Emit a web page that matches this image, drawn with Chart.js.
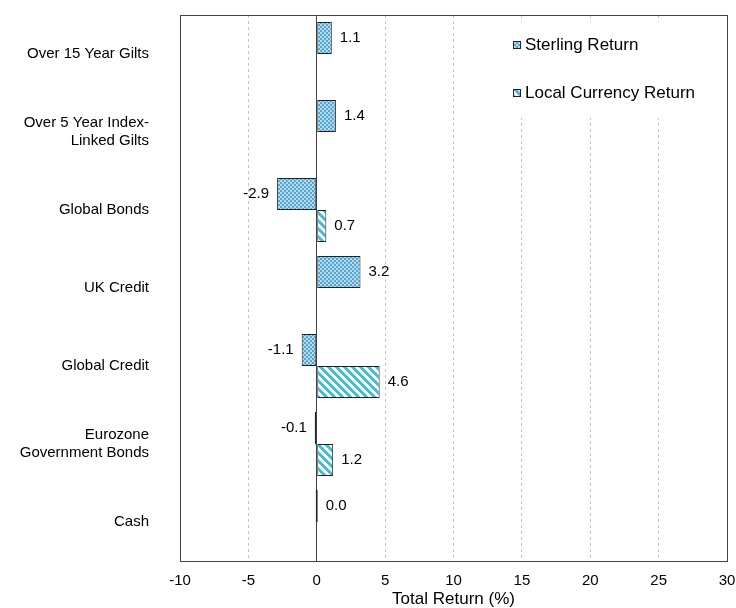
<!DOCTYPE html>
<html>
<head>
<meta charset="utf-8">
<script src="https://cdn.jsdelivr.net/npm/chart.js@4.4.1/dist/chart.umd.min.js"></script>
<style>
  html, body { margin: 0; padding: 0; background: #fff; }
  #wrap { width: 736px; height: 608px; }
</style>
</head>
<body>
<div id="wrap"><canvas id="myChart" width="736" height="608"></canvas></div>
<script>
// categories, top to bottom
var categories = [
  "Over 15 Year Gilts",
  ["Over 5 Year Index-", "Linked Gilts"],
  "Global Bonds",
  "UK Credit",
  "Global Credit",
  ["Eurozone", "Government Bonds"],
  "Cash",
];
var seriesNames = ["Sterling Return", "Local Currency Return"];
var sterlingReturn = [1.1, 1.4, -2.9, 3.2, -1.1, -0.1, 0.0];
var localReturn = [null, null, 0.7, null, 4.6, 1.2, null];
var xMin = -10;
var xMax = 30;
var xStep = 5;
var axisTitle = "Total Return (%)";

var FONT = "'Liberation Sans', Arial, sans-serif";

var canvas = document.getElementById("myChart");
var mainCtx = canvas.getContext("2d");

// small checker fill for sterling bars
function makeChecker() {
  var c = document.createElement("canvas");
  c.width = 4;
  c.height = 4;
  var g = c.getContext("2d");
  g.fillStyle = "#55a7d0";
  g.fillRect(0, 0, 4, 4);
  g.fillStyle = "#b3dbee";
  g.fillRect(0, 0, 2, 2);
  g.fillRect(2, 2, 2, 2);
  return mainCtx.createPattern(c, "repeat");
}

// diagonal stripes for local currency bars
function makeStripes() {
  var c = document.createElement("canvas");
  c.width = 8;
  c.height = 8;
  var g = c.getContext("2d");
  g.fillStyle = "#ffffff";
  g.fillRect(0, 0, 8, 8);
  g.fillStyle = "#3dbfe0";
  for (var y = 0; y < 8; y++) {
    for (var x = 0; x < 8; x++) {
      if ((((x - y) % 8) + 8) % 8 < 4) g.fillRect(x, y, 1, 1);
    }
  }
  return mainCtx.createPattern(c, "repeat");
}

var checker = makeChecker();
var stripes = makeStripes();

// frame round the plot area
var framePlugin = {
  id: "frame",
  afterDatasetsDraw: function (chart) {
    var a = chart.chartArea;
    var ctx = chart.ctx;
    var l = Math.round(a.left) + 0.5;
    var t = Math.round(a.top) + 0.5;
    var r = Math.round(a.right) + 0.5;
    var b = Math.round(a.bottom) + 0.5;
    ctx.save();
    ctx.strokeStyle = "#444";
    ctx.lineWidth = 1;
    ctx.strokeRect(l, t, r - l, b - t);
    ctx.restore();
  },
};

// value text next to each bar
var valueLabels = {
  id: "valueLabels",
  afterDatasetsDraw: function (chart) {
    var ctx = chart.ctx;
    ctx.save();
    ctx.font = "15px " + FONT;
    ctx.fillStyle = "#000";
    ctx.textBaseline = "middle";
    chart.data.datasets.forEach(function (ds, di) {
      var meta = chart.getDatasetMeta(di);
      meta.data.forEach(function (bar, i) {
        var v = ds.data[i];
        if (v === null || v === undefined) return;
        var txt = v.toFixed(1);
        if (v < 0) {
          ctx.textAlign = "right";
          ctx.fillText(txt, Math.min(bar.x, bar.base) - 8, bar.y);
        } else {
          ctx.textAlign = "left";
          ctx.fillText(txt, Math.max(bar.x, bar.base) + 8, bar.y);
        }
      });
    });
    ctx.restore();
  },
};

// legend inside the plot, top right, on a white box
var legendBox = {
  id: "legendBox",
  afterDraw: function (chart) {
    var ctx = chart.ctx;
    var a = chart.chartArea;
    var x0 = Math.round(a.right) - 222;
    var y0 = Math.round(a.top) + 7;
    ctx.save();
    ctx.fillStyle = "#fff";
    ctx.fillRect(x0, y0, 218, 96);
    ctx.font = "17px " + FONT;
    ctx.textBaseline = "middle";
    ctx.textAlign = "left";
    chart.data.datasets.forEach(function (ds, i) {
      var x = Math.round(a.right) - 214;
      var y = Math.round(a.top) + 30 + i * 48;
      ctx.fillStyle = ds.backgroundColor;
      ctx.fillRect(x, y - 4, 8, 8);
      ctx.strokeStyle = "#222";
      ctx.lineWidth = 1;
      ctx.strokeRect(x + 0.5, y - 3.5, 7, 7);
      ctx.fillStyle = "#000";
      ctx.fillText(ds.label, x + 12, y);
    });
    ctx.restore();
  },
};

new Chart(canvas, {
  type: "bar",
  data: {
    labels: categories,
    datasets: [
      {
        label: seriesNames[0],
        data: sterlingReturn,
        backgroundColor: checker,
        borderColor: "#222",
        borderWidth: 1,
        borderSkipped: false,
        minBarLength: 2,
      },
      {
        label: seriesNames[1],
        data: localReturn,
        backgroundColor: stripes,
        borderColor: "#222",
        borderWidth: 1,
        borderSkipped: false,
        minBarLength: 2,
      },
    ],
  },
  options: {
    indexAxis: "y",
    responsive: false,
    animation: false,
    datasets: { bar: { categoryPercentage: 0.82, barPercentage: 1 } },
    layout: { padding: { left: 0, right: 9, top: 15, bottom: 0 } },
    plugins: {
      legend: { display: false },
      tooltip: { enabled: false },
    },
    scales: {
      x: {
        type: "linear",
        min: xMin,
        max: xMax,
        ticks: {
          stepSize: xStep,
          padding: 11,
          color: "#000",
          font: { family: FONT, size: 15 },
        },
        grid: {
          drawTicks: false,
          lineWidth: 1,
          color: function (c) {
            if (!c.tick) return "#c4c4c4";
            if (c.tick.value === 0) return "#444";
            if (c.tick.value === xMin || c.tick.value === xMax) return "rgba(0,0,0,0)";
            return "#c4c4c4";
          },
        },
        border: {
          display: false,
          dash: function (c) {
            return c.tick && c.tick.value === 0 ? [] : [3, 3];
          },
        },
        title: {
          display: true,
          text: axisTitle,
          color: "#000",
          font: { family: FONT, size: 17, lineHeight: 1 },
          padding: { top: 0, bottom: 0 },
        },
        afterFit: function (s) {
          s.height = 47;
          s.paddingLeft = 0;
          s.paddingRight = 0;
        },
      },
      y: {
        grid: { display: false, drawTicks: false },
        border: { display: false },
        ticks: {
          padding: 31,
          color: "#000",
          font: { family: FONT, size: 15 },
        },
        afterFit: function (s) {
          s.width = 180;
          s.paddingTop = 0;
          s.paddingBottom = 0;
        },
      },
    },
  },
  plugins: [framePlugin, valueLabels, legendBox],
});
</script>
</body>
</html>
